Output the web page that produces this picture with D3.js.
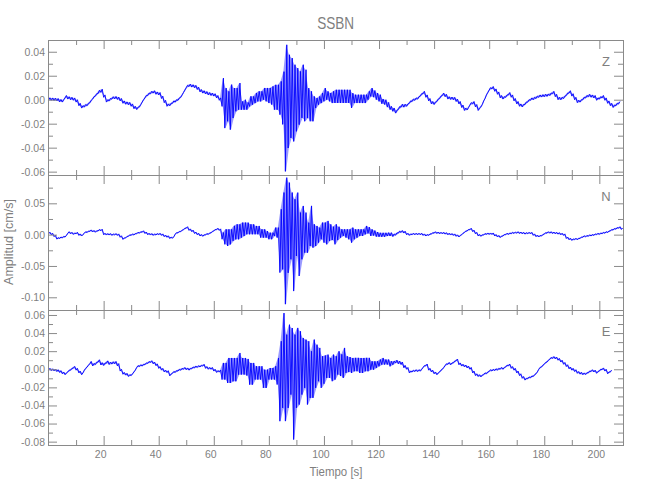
<!DOCTYPE html>
<html>
<head>
<meta charset="utf-8">
<script src="https://cdn.jsdelivr.net/npm/d3@7"></script>
<style>
  body { margin: 0; background: #fff; }
  svg { display: block; }
  text { font-family: "Liberation Sans", Arial, sans-serif; fill: #7f7f7f; }
</style>
</head>
<body>
<svg id="chart" width="650" height="500"></svg>
<script>
// Values in units of 1e-3 cm/s, one sample per second (t = 0, 1, 2, ...).
// "Mid" = centre of the trace within that second, "Amp" = half of its min-max spread.
const UNIT = 1e-3;

const zMid = [
  0.6, 0.5, 0.3, 0, -0.8, -1.0, 2.5, 1.5, 1.0, 0.5,
  -1, -4, -6, -5, -4, -1.5, 1.5, 4, 6.5, 7.5,
  3, -1, 0, 1.5, 1.7, 1.2, 0, -2, -2.8, -3.2,
  -4.5, -6.5, -7.2, -5, -1, 2.5, 4.5, 6, 6.5, 5.5,
  5, 2, -1.5, -4.5, -4, -2, -1, 0.5, 3, 7,
  11, 12, 11.5, 11, 9.5, 7.5, 6.5, 5.8, 5, 4.5,
  4, 2.5, 0.5, 6.2, -7, -5.5, -6.2, -2.8, 0, 2.8,
  -4.9, -4.2, -5.3, -1.4, -0.7, 1.4, 2.8, 2.8, 4.9, 4.2,
  3.5, 3.5, 2, 2, 1.4, 1.4, -7, -1.4, 1.4, -2.8,
  0, 1.4, 7, 3.5, -2.8, -5.5, -7.6, -2.8, -0.7, 1.4,
  4.2, 3.5, 2.1, 2.1, 2.8, 2.8, 2.8, 2.8, 2.8, 2.8,
  -0.7, 0.7, 0.7, 0.7, 0.7, 0.7, 3.5, 6.2, 4.9, 2.8,
  1.4, -1.4, -2, -4.2, -6.9, -8.3, -10, -7, -5, -5,
  -4.5, -2, -0.5, 0.5, 1.5, 4, 6, 3, 0, -2.5,
  -3, -0.5, 2, 4.5, 3.5, 1.5, 1.2, 1, -0.5, -2.5,
  -5.5, -8, -7.5, -3.5, -2.5, -5, -8, -5, 0, 5,
  9, 10, 8, 5.5, 2.5, 1.5, 3, 5, 3, 0,
  -2.5, -4.5, -5, -3, -1, 0.5, 1, 2, 3, 3.2,
  3.5, 3.8, 4.5, 6, 3.5, 1, 1, 2, 4.5, 6.5,
  4, 1, -1.5, -1, 1, 2.5, 3.5, 3, 2.5, 0.5,
  1.5, 2.5, 0.5, -2, -4, -5.5, -4, -2.5
];
const zAmp = [
  1, 1, 1, 1, 1, 1, 1, 1, 1, 1,
  1, 1, 1, 1, 1, 1, 1, 1, 1.3, 1.3,
  1, 1, 1, 1, 1, 1, 1, 1, 1, 1,
  1, 1, 1, 1, 1, 1, 1, 1, 1, 1,
  1, 1, 1, 1, 1, 1, 1, 1, 1, 1,
  1, 1, 1, 1, 1, 1, 1, 1, 1, 1,
  1, 1, 1, 11.8, 16.7, 12.5, 18.8, 12.5, 9.7, 11.1,
  3.5, 4.2, 3, 4.2, 3.5, 4.2, 4.2, 4.2, 4.9, 5.6,
  6.3, 7.6, 10.4, 10.4, 13.9, 22, 52.8, 38.9, 33.3, 32,
  26.4, 22.2, 22.2, 21.5, 12.5, 12.5, 10.4, 4.2, 3.5, 4.2,
  5.5, 3.5, 3.5, 4.9, 5.5, 5.5, 5.5, 5.5, 5.5, 5.5,
  6.2, 3.5, 3.5, 3.5, 3.5, 3.5, 3.5, 3.5, 2.8, 2.8,
  2.8, 2, 2, 2, 1.4, 1.4, 1.2, 1.2, 1.2, 1.2,
  1, 1, 1, 1, 1, 1, 1, 1, 1, 1,
  1, 1, 1, 1, 1, 1, 1, 1, 1, 1,
  1, 1, 1, 1, 1, 1, 1, 1, 1, 1,
  1, 1, 1, 1, 1, 1, 1, 1, 1, 1,
  1, 1, 1, 1, 1, 1, 1, 1, 1, 1,
  1, 1, 1, 1, 1, 1, 1, 1, 1, 1,
  1, 1, 1, 1, 1, 1, 1, 1, 1, 1,
  1, 1, 1, 1, 1, 1, 1, 1
];

const nMid = [
  2.7, 1, -2, -6, -5, -4, -2.5, 3.5, 2.5, 1.5,
  2.5, 0, -1, 3.5, 4.5, 6.4, 5.5, 5, 7, 7.5,
  1, 0.5, 0.5, 0, 0.5, 0, -3, -6.4, -4, -1.5,
  0, 0.5, 2.5, 3.5, 5, 3, 1, 0.5, 0, 0.5,
  1, 0, -2, -3, -5, -4.5, 2, 4, 6, 9,
  11.5, 8, 6, 3, 1, -1, -1.5, 0.5, 1.5, 4,
  7, 9, 8, -2, -3.5, -4.8, -3.5, 2, 4.5, 4.5,
  7.2, 8.5, 9.9, 8.5, 8.5, 7.2, 7.2, 1.9, 1.9, 0.5,
  -2.1, -2.1, 4.5, 3.2, -10, 5.9, -10, 11, 13.9, -16.8,
  16.5, -15.4, 3.2, 3.2, -4.8, 13.9, -2.1, -2.1, -0.8, 5.9,
  3.2, 3.2, 3.2, 2, 0.5, 2, 1.9, 3.2, 1.9, 0.5,
  -0.8, 0.5, 1.9, 3.2, 3.2, 7.2, 7, 3.2, 2.6, 0.5,
  -0.3, -0.3, -0.3, 0.5, 0.5, -1, 1, 4, 5, 4,
  1, 0, 1, 1, 1, 1, 0, -1, 0, 2,
  3.5, 3, 2.5, 2.5, 2, 1, 0.5, 0, -1.5, -2.5,
  1, 4.5, 7, 9, 6, 2.5, -1, -1.5, 0.5, 1.5,
  1.5, 1.5, -1, -2.5, -3.5, -1, 1, 1.5, 2.5, 3,
  3.5, 3, 2.5, 2, 2.5, 2.5, 0, -2, -2.5, -1,
  2, 3.5, 3.5, 3, 2.5, 2, 1, 0, -5, -7,
  -8, -7, -7, -5, -3, -2.5, -1.5, -1, 0, 1,
  1.5, 2.5, 3.5, 4.5, 7, 8.5, 10, 11.5, 9.5
];
const nAmp = [
  1.2, 1.2, 1.2, 1.2, 1.2, 1.2, 1.2, 1.2, 1.2, 1.2,
  1.2, 1.2, 1.2, 1.2, 1.2, 1.2, 1.2, 1.2, 1.2, 1.2,
  1.2, 1.2, 1.2, 1.2, 1.2, 1.2, 1.2, 1.2, 1.2, 1.2,
  1.2, 1.2, 1.2, 1.2, 1.2, 1.2, 1.2, 1.2, 1.2, 1.2,
  1.2, 1.2, 1.2, 1.2, 1.2, 1.2, 1.2, 1.2, 1.2, 1.2,
  1.2, 1.2, 1.2, 1.2, 1.2, 1.2, 1.2, 1.2, 1.2, 1.2,
  1.2, 1.2, 1.2, 5.3, 12, 13.3, 12, 12, 12, 12,
  12, 10.7, 9.3, 8, 8, 6.7, 6.7, 6.7, 6.7, 5.3,
  5.3, 5.3, 6.7, 8, 50.6, 61.3, 101, 72, 53.3, 73.3,
  50.6, 50.6, 42.6, 32, 24, 32, 18.7, 16, 12, 13.3,
  16, 18.7, 13.3, 10.7, 16, 10.7, 6.7, 5.3, 6.7, 8,
  12, 8, 6.7, 5.3, 5.3, 6.7, 5, 5.3, 4, 3.7,
  3.2, 3.2, 3.2, 2.7, 2.7, 2, 1.8, 1.6, 1.5, 1.5,
  1.2, 1.2, 1.2, 1.2, 1.2, 1.2, 1.2, 1.2, 1.2, 1.2,
  1.2, 1.2, 1.2, 1.2, 1.2, 1.2, 1.2, 1.2, 1.2, 1.2,
  1.2, 1.2, 1.2, 1.2, 1.2, 1.2, 1.2, 1.2, 1.2, 1.2,
  1.2, 1.2, 1.2, 1.2, 1.2, 1.2, 1.2, 1.2, 1.2, 1.2,
  1.2, 1.2, 1.2, 1.2, 1.2, 1.2, 1.2, 1.2, 1.2, 1.2,
  1.2, 1.2, 1.2, 1.2, 1.2, 1.2, 1.2, 1.2, 1.2, 1.2,
  1.2, 1.2, 1.2, 1.2, 1.2, 1.2, 1.2, 1.2, 1.2, 1.2,
  1.2, 1.2, 1.2, 1.2, 1.2, 1.2, 1.2, 1.2, 1.2
];

const eMid = [
  0, -0.5, -0.8, -1.5, -2.5, -4, -5, -2, 0, 2.2,
  0, -3, -5, 0, 3.5, 7.4, 5, 6.5, 9.2, 6,
  5.5, 8, 6.5, 7, 7.4, 5, -1, -4.5, -5.5, -7,
  -6, -2, 3, 4, 4.5, 6, 7.5, 8.5, 7, 5,
  2, 0, -2, -2.6, -6.3, -3.5, -2.5, -1, 0, 1,
  0.5, 0, 1.5, 2.5, 3, 3.5, 4.5, 2, 1, 1,
  -1, -2.5, -2, -2.2, -2.2, -1.3, -1.3, -0.4, -0.4, 6,
  3.3, 3.3, 2.2, -5, -5, -4, -4, -4, -10.5, -10.5,
  -5, -5, -4, -2.2, -13.2, 9.7, -9.5, 3.3, 8.8, -19.7,
  1.5, 1.5, 3.3, 6.1, -4, -5.9, 0.6, 3.3, 5.2, -3.1,
  -0.4, 3.3, 1.5, 1.5, 1.5, 7, 4.5, 7, 5.2, 5.2,
  4.2, 5.2, 5.2, 4.2, 4.2, 5.2, 5.2, 4.2, 4.2, 5.2,
  7, 8.8, 8, 8, 6, 7, 8.5, 7.5, 6.6, 3,
  1, -3, -2, -1.5, -1.5, -1, 3, 4.8, 0, -2,
  -4, -5, -2, 1, 5, 6.5, 6, 8, 10.3, 6,
  4.5, 3.7, 2.5, 1, -3, -6, -7, -7.4, -5, -4,
  -1.5, -1, -0.5, 0, 1, 1, 3.5, 4.8, 2, 0,
  -3, -6, -9, -11, -9.5, -8.5, -7, -4, 1, 3.5,
  6.5, 9, 12, 13, 12.5, 11, 9, 6.5, 4, 1.5,
  0, -1.5, -3.5, -4.4, -5, -4.8, -3, -1.5, -2, -3.5,
  -1, 0.5, -1, -4, -2
];
const eAmp = [
  1, 1, 1, 1, 1, 1, 1, 1, 1, 1,
  1, 1, 1, 1, 1, 1.3, 1.3, 1.3, 1.3, 1.3,
  1.3, 1.3, 1.3, 1.3, 1.3, 1.3, 1, 1, 1, 1,
  1, 1, 1, 1, 1, 1, 1, 1, 1, 1,
  1, 1, 1, 1, 1, 1, 1, 1, 1, 1,
  1, 1, 1, 1, 1, 1, 1, 1, 1, 1,
  1, 1, 1, 9.2, 9.2, 13.8, 13.8, 12.9, 12.9, 12,
  9.2, 9.2, 9.2, 12, 12, 7.4, 7.4, 7.4, 10.1, 10.1,
  6.4, 6.4, 7.4, 14.7, 44.2, 52.4, 47.8, 46, 36.8, 58,
  44.2, 40.5, 31.3, 26.7, 35, 25.8, 32.2, 23.9, 18.4, 17.5,
  15.6, 12.9, 11, 14.7, 12.9, 12.9, 12, 16.6, 9.2, 8.3,
  8.3, 7.4, 7.4, 8.3, 8.3, 7.4, 7.4, 4.6, 4.6, 3.7,
  3.7, 3.7, 2.8, 2.8, 2.8, 2, 1.6, 1.5, 1.4, 1.3,
  1, 1, 1, 1, 1, 1, 1, 1, 1, 1,
  1, 1, 1, 1, 1, 1, 1, 1, 1, 1,
  1, 1, 1, 1, 1, 1, 1, 1, 1, 1,
  1, 1, 1, 1, 1, 1, 1, 1, 1, 1,
  1, 1, 1, 1, 1, 1, 1, 1, 1, 1,
  1, 1, 1, 1, 1, 1, 1, 1, 1, 1,
  1, 1, 1, 1, 1, 1, 1, 1, 1, 1,
  1, 1, 1, 1, 1
];

// Tick values and labels
const xMajorTicks = [20, 40, 60, 80, 100, 120, 140, 160, 180, 200];
const xTickLabels = ["20", "40", "60", "80", "100", "120", "140", "160", "180", "200"];
const xMinorTicks = [10, 30, 50, 70, 90, 110, 130, 150, 170, 190];

const zTicks = [0.04, 0.02, 0.00, -0.02, -0.04, -0.06];
const zTickLabels = ["0.04", "0.02", "0.00", "-0.02", "-0.04", "-0.06"];
const zMinor = [0.03, 0.01, -0.01, -0.03, -0.05];

const nTicks = [0.05, 0.00, -0.05, -0.10];
const nTickLabels = ["0.05", "0.00", "-0.05", "-0.10"];
const nMinor = [0.075, 0.025, -0.025, -0.075];

const eTicks = [0.06, 0.04, 0.02, 0.00, -0.02, -0.04, -0.06, -0.08];
const eTickLabels = ["0.06", "0.04", "0.02", "0.00", "-0.02", "-0.04", "-0.06", "-0.08"];
const eMinor = [0.05, 0.03, 0.01, -0.01, -0.03, -0.05, -0.07];

const componentNames = ["Z", "N", "E"];
const titleText = "SSBN";
const xTitle = "Tiempo [s]";
const yTitle = "Amplitud [cm/s]";

// ---------- drawing ----------
const svg = d3.select("#chart");
const left = 48, right = 623.3;
const panelTops = [40, 175, 310];
const panelH = 135;
const axisColor = "#8a8a8a";
const textColor = "#7f7f7f";
const traceColor = "#0000ff";

const x = d3.scaleLinear().domain([-0.2, 208.7]).range([left, right]);

const panels = [
  { name: componentNames[0], mid: zMid, amp: zAmp, domain: [-0.0628, 0.0498], major: zTicks, labels: zTickLabels, minor: zMinor },
  { name: componentNames[1], mid: nMid, amp: nAmp, domain: [-0.1203, 0.0952], major: nTicks, labels: nTickLabels, minor: nMinor },
  { name: componentNames[2], mid: eMid, amp: eAmp, domain: [-0.0837, 0.0655], major: eTicks, labels: eTickLabels, minor: eMinor }
];

function styleAxis(g) {
  g.select(".domain").remove();
  g.selectAll(".tick line").attr("stroke", axisColor);
  g.selectAll(".tick text").attr("fill", textColor).attr("font-size", 10.5)
    .attr("font-family", '"Liberation Sans", Arial, sans-serif');
}

panels.forEach((p, k) => {
  const top = panelTops[k], bottom = top + panelH;
  const y = d3.scaleLinear().domain(p.domain).range([bottom, top]);
  const g = svg.append("g");

  // envelope band (min..max per second)
  const env = p.mid.map((m, i) => ({ t: i + 0.25, lo: (m - p.amp[i]) * UNIT, hi: (m + p.amp[i]) * UNIT }));
  const area = d3.area().x(d => x(d.t)).y0(d => y(d.lo)).y1(d => y(d.hi));
  g.append("path").datum(env)
    .attr("d", area)
    .attr("fill", traceColor)
    .attr("fill-opacity", 0.4)
    .attr("stroke", "none");

  // trace: min/max per second drawn as a continuous line
  const pts = [];
  p.mid.forEach((m, i) => {
    pts.push({ t: i, v: (m - p.amp[i]) * UNIT });
    pts.push({ t: i + 0.5, v: (m + p.amp[i]) * UNIT });
  });
  const line = d3.line().x(d => x(d.t)).y(d => y(d.v));
  g.append("path").datum(pts)
    .attr("d", line)
    .attr("fill", "none")
    .attr("stroke", traceColor)
    .attr("stroke-width", 0.9)
    .attr("stroke-linejoin", "round");

  // frame
  g.append("rect")
    .attr("x", Math.round(left) + 0.5).attr("y", top + 0.5)
    .attr("width", Math.round(right) - Math.round(left)).attr("height", panelH)
    .attr("fill", "none").attr("stroke", axisColor).attr("stroke-width", 1);

  // left axis (labels) + minor
  g.append("g").attr("transform", `translate(${Math.round(left)},0)`)
    .call(d3.axisLeft(y).tickValues(p.major).tickSize(-9).tickPadding(3).tickFormat((d, i) => p.labels[i]))
    .call(styleAxis);
  g.append("g").attr("transform", `translate(${Math.round(left)},0)`)
    .call(d3.axisLeft(y).tickValues(p.minor).tickSize(-5).tickFormat(""))
    .call(styleAxis);
  // right axis
  g.append("g").attr("transform", `translate(${Math.round(right)},0)`)
    .call(d3.axisRight(y).tickValues(p.major).tickSize(-9).tickFormat(""))
    .call(styleAxis);
  g.append("g").attr("transform", `translate(${Math.round(right)},0)`)
    .call(d3.axisRight(y).tickValues(p.minor).tickSize(-5).tickFormat(""))
    .call(styleAxis);
  // top axis
  g.append("g").attr("transform", `translate(0,${top})`)
    .call(d3.axisTop(x).tickValues(xMajorTicks).tickSize(-9).tickFormat(""))
    .call(styleAxis);
  g.append("g").attr("transform", `translate(0,${top})`)
    .call(d3.axisTop(x).tickValues(xMinorTicks).tickSize(-5).tickFormat(""))
    .call(styleAxis);
  // bottom axis (labels on last panel only)
  const isLast = k === panels.length - 1;
  const bAx = g.append("g").attr("transform", `translate(0,${bottom})`)
    .call(d3.axisBottom(x).tickValues(xMajorTicks).tickSize(-9).tickPadding(5.5)
      .tickFormat((d, i) => isLast ? xTickLabels[i] : ""))
    .call(styleAxis);
  bAx.selectAll(".tick text").attr("dx", -3.5);
  g.append("g").attr("transform", `translate(0,${bottom})`)
    .call(d3.axisBottom(x).tickValues(xMinorTicks).tickSize(-5).tickFormat(""))
    .call(styleAxis);

  // component label
  g.append("text")
    .attr("x", 606).attr("y", top + 26)
    .attr("text-anchor", "middle")
    .attr("font-size", 13)
    .attr("fill", textColor)
    .text(p.name);
});

// Title
svg.append("text")
  .attr("x", (left + right) / 2).attr("y", 29.3)
  .attr("text-anchor", "middle")
  .attr("font-size", 17)
  .attr("textLength", 37).attr("lengthAdjust", "spacingAndGlyphs")
  .attr("fill", textColor)
  .text(titleText);

// X title
svg.append("text")
  .attr("x", 336).attr("y", 476)
  .attr("text-anchor", "middle")
  .attr("font-size", 13)
  .attr("textLength", 53).attr("lengthAdjust", "spacingAndGlyphs")
  .attr("fill", textColor)
  .text(xTitle);

// Y title
svg.append("text")
  .attr("transform", "translate(13,242) rotate(-90)")
  .attr("text-anchor", "middle")
  .attr("font-size", 13)
  .attr("textLength", 86).attr("lengthAdjust", "spacingAndGlyphs")
  .attr("fill", textColor)
  .text(yTitle);
</script>
</body>
</html>
